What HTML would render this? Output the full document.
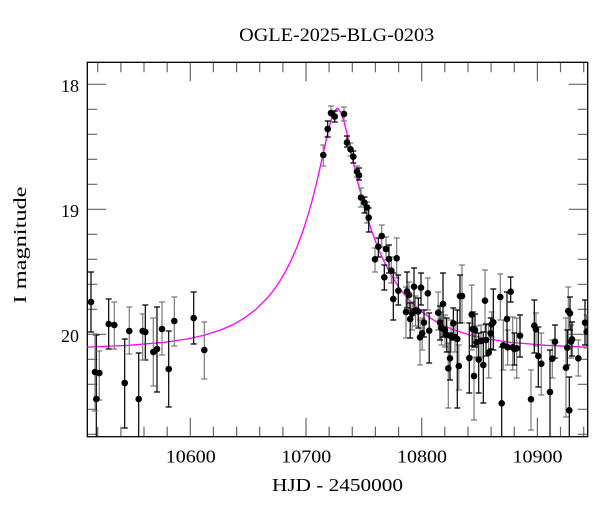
<!DOCTYPE html>
<html><head><meta charset="utf-8"><style>
html,body{margin:0;padding:0;background:#fff;}
svg{display:block;}
text{font-family:"Liberation Serif","DejaVu Serif",serif;fill:#000;}
</style></head><body>
<svg width="600" height="512" viewBox="0 0 600 512" xmlns="http://www.w3.org/2000/svg">
<rect width="600" height="512" fill="#fff"/>
<defs><clipPath id="c"><rect x="87.3" y="62.3" width="500.4" height="374.4"/></clipPath></defs>
<text x="336.7" y="41" font-size="19" text-anchor="middle" textLength="195" lengthAdjust="spacingAndGlyphs">OGLE-2025-BLG-0203</text>
<g stroke="#666" stroke-width="1.2" fill="none">
<path d="M87.3,84.3h19M87.3,209.3h19M87.3,334.3h19M87.3,109.3h10M87.3,134.3h10M87.3,159.3h10M87.3,184.3h10M87.3,234.3h10M87.3,259.3h10M87.3,284.3h10M87.3,309.3h10M87.3,359.3h10M87.3,384.3h10M87.3,409.3h10M87.3,434.3h10"/>
<path d="M587.7,84.3h-19M587.7,209.3h-19M587.7,334.3h-19M587.7,109.3h-10M587.7,134.3h-10M587.7,159.3h-10M587.7,184.3h-10M587.7,234.3h-10M587.7,259.3h-10M587.7,284.3h-10M587.7,309.3h-10M587.7,359.3h-10M587.7,384.3h-10M587.7,409.3h-10M587.7,434.3h-10"/>
<path d="M190.3,436.7v-19M306,436.7v-19M421.7,436.7v-19M537.4,436.7v-19M97.7,436.7v-10M120.9,436.7v-10M144,436.7v-10M167.2,436.7v-10M213.4,436.7v-10M236.6,436.7v-10M259.7,436.7v-10M282.9,436.7v-10M329.1,436.7v-10M352.3,436.7v-10M375.4,436.7v-10M398.6,436.7v-10M444.8,436.7v-10M468,436.7v-10M491.1,436.7v-10M514.3,436.7v-10M560.5,436.7v-10M583.7,436.7v-10"/>
<path d="M190.3,62.3v19M306,62.3v19M421.7,62.3v19M537.4,62.3v19M97.7,62.3v10M120.9,62.3v10M144,62.3v10M167.2,62.3v10M213.4,62.3v10M236.6,62.3v10M259.7,62.3v10M282.9,62.3v10M329.1,62.3v10M352.3,62.3v10M375.4,62.3v10M398.6,62.3v10M444.8,62.3v10M468,62.3v10M491.1,62.3v10M514.3,62.3v10M560.5,62.3v10M583.7,62.3v10"/>
</g>
<rect x="87.3" y="62.3" width="500.4" height="374.4" fill="none" stroke="#000" stroke-width="1.3"/>
<g font-size="18" text-anchor="end">
<text x="79" y="92">18</text>
<text x="79" y="217">19</text>
<text x="79" y="342">20</text>
</g>
<g font-size="18" text-anchor="middle">
<text x="190.8" y="462.7" textLength="50" lengthAdjust="spacingAndGlyphs">10600</text>
<text x="306.3" y="462.7" textLength="50" lengthAdjust="spacingAndGlyphs">10700</text>
<text x="422" y="462.7" textLength="50" lengthAdjust="spacingAndGlyphs">10800</text>
<text x="537.5" y="462.7" textLength="50" lengthAdjust="spacingAndGlyphs">10900</text>
</g>
<text x="337.5" y="491" font-size="18" text-anchor="middle" textLength="131" lengthAdjust="spacingAndGlyphs">HJD - 2450000</text>
<text transform="translate(26,245) rotate(-90)" font-size="18" text-anchor="middle" textLength="117" lengthAdjust="spacingAndGlyphs">I magnitude</text>
<g clip-path="url(#c)">
<polyline fill="none" stroke="#ff00ff" stroke-width="1.3" points="82.8,347.2 87,347.1 129,345.3 163.8,342.4 186.9,339 204.2,335.2 221.6,329.6 233.2,324.5 244.7,317.8 256.3,309 267.9,297.3 273.7,290.1 279.5,281.7 285.2,272 291,260.7 296.8,247.4 302.6,232 307.2,217.7 311.9,201.5 316.5,183.2 319.9,168.3 323.4,152.5 326.9,136.7 330.4,122.4 333.8,112 337.3,108.1 340.8,112 344.2,122.4 347.7,136.7 351.2,152.5 354.7,168.3 358.1,183.2 362.8,201.5 367.4,217.7 372,232 377.8,247.4 383.6,260.7 389.4,272 395.2,281.7 400.9,290.1 406.7,297.3 418.3,309 429.9,317.8 441.4,324.5 453,329.6 470.4,335.2 487.7,339 510.9,342.4 545.6,345.3 587.2,347.2 592,347.3"/>
<g stroke-width="1.2" fill="none">
<path stroke="#000" d="M91,272V332M88,272H94M88,332H94 M96.3,335V437M93.3,335H99.3 M108.7,299V349M105.7,299H111.7M105.7,349H111.7 M124.7,339V428M121.7,339H127.7M121.7,428H127.7 M138.7,353V437M135.7,353H141.7 M145.3,305V360M142.3,305H148.3M142.3,360H148.3 M157,307V392M154,307H160M154,392H160 M168.7,331V407M165.7,331H171.7M165.7,407H171.7 M193.7,292V344M190.7,292H196.7M190.7,344H196.7"/>
<path stroke="#7a7a7a" d="M95,334V411M92,334H98M92,411H98 M99.3,351V400M96.3,351H102.3M96.3,400H102.3 M114.3,302V349M111.3,302H117.3M111.3,349H117.3 M129.3,307V354M126.3,307H132.3M126.3,354H132.3 M142.7,314V360M139.7,314H145.7M139.7,360H145.7 M153.3,318V386M150.3,318H156.3M150.3,386H156.3 M162,302V355M159,302H165M159,355H165 M174.3,297V346M171.3,297H177.3M171.3,346H177.3 M204.3,322V379M201.3,322H207.3M201.3,379H207.3"/>
<path stroke="#7a7a7a" d="M323.3,145V166M320.3,145H326.3M320.3,166H326.3 M331,106V117M328,106H334 M344,107V121M341,107H347M341,121H347 M350.5,143V156M347.5,143H353.5M347.5,156H353.5 M357,166V177M354,166H360M354,177H360 M361,188V207M358,188H364M358,207H364 M367,202V223M364,202H370M364,223H370"/>
<path stroke="#000" d="M327.7,121V137M324.7,121H330.7M324.7,137H330.7 M334.7,111V122M331.7,111H337.7M331.7,122H337.7 M347,136V147M344,136H350M344,147H350 M353.3,151V163M350.3,151H356.3M350.3,163H356.3 M359,168V180M356,168H362M356,180H362 M364.5,197V213M361.5,197H367.5M361.5,213H367.5 M368.7,208V232M365.7,208H371.7M365.7,232H371.7"/>
<path stroke="#7a7a7a" d="M375,248V272M372,248H378M372,272H378 M381.7,225V247M378.7,225H384.7M378.7,247H384.7 M386,237V260M383,237H389M383,260H389 M391.3,257V283M388.3,257H394.3M388.3,283H394.3 M396.7,238V278M393.7,238H399.7M393.7,278H399.7 M406,287V338M403,287H409M403,338H409 M409,282V310M406,282H412M406,310H412 M412.2,302V330M409.2,302H415.2M409.2,330H415.2 M415.5,296V326M412.5,296H418.5M412.5,326H418.5 M420,320V365M417,320H423M417,365H423 M422.2,318V350M419.2,318H425.2M419.2,350H425.2 M427.8,278V310M424.8,278H430.8M424.8,310H430.8 M438.2,292V330M435.2,292H441.2M435.2,330H441.2 M441.5,312V345M438.5,312H444.5M438.5,345H444.5 M445,315V347M442,315H448M442,347H448 M448.3,343V408M445.3,343H451.3M445.3,408H451.3 M451,320V352M448,320H454M448,352H454 M455,322V352M452,322H458M452,352H458 M458.8,345V390M455.8,345H461.8M455.8,390H461.8 M462,265V323M459,265H465M459,323H465"/>
<path stroke="#000" d="M378.3,238V257M375.3,238H381.3M375.3,257H381.3 M384.3,265V290M381.3,265H387.3M381.3,290H387.3 M389,245V273M386,245H392M386,273H392 M393.3,273V320M390.3,273H396.3M390.3,320H396.3 M398.3,275V305M395.3,275H401.3M395.3,305H401.3 M407,272V308M404,272H410M404,308H410 M410.2,303V338M407.2,303H413.2M407.2,338H413.2 M414,268V309M411,268H417M411,309H417 M418.3,298V328M415.3,298H421.3M415.3,328H421.3 M421,273V305M418,273H424M418,305H424 M424,310V337M421,310H427M421,337H427 M429.2,313V363M426.2,313H432.2M426.2,363H432.2 M440,306V340M437,306H443M437,340H443 M443,273V337M440,273H446M440,337H446 M446.7,318V352M443.7,318H449.7M443.7,352H449.7 M450,333V380M447,333H453M447,380H453 M453.3,308V340M450.3,308H456.3M450.3,340H456.3 M457.3,310V408M454.3,310H460.3M454.3,408H460.3 M460,275V323M457,275H463M457,323H463 M469.3,323V393M466.3,323H472.3M466.3,393H472.3"/>
<path stroke="#7a7a7a" d="M471.7,285V350M468.7,285H474.7M468.7,350H474.7 M474,357V420M471,357H477M471,420H477 M476.7,326V358M473.7,326H479.7M473.7,358H479.7 M481,325V357M478,325H484M478,357H484 M485,270V332M482,270H488M482,332H488 M488.7,325V378M485.7,325H491.7M485.7,378H491.7 M491.7,312V337M488.7,312H494.7M488.7,337H494.7 M500.3,274V320M497.3,274H503.3M497.3,320H503.3 M503.3,320V370M500.3,320H506.3M500.3,370H506.3 M507.7,330V365M504.7,330H510.7M504.7,365H510.7 M512.7,317V370M509.7,317H515.7M509.7,370H515.7 M516.7,318V378M513.7,318H519.7M513.7,378H519.7 M531,370V430M528,370H534M528,430H534 M536,313V346M533,313H539M533,346H539 M541.3,333V395M538.3,333H544.3M538.3,395H544.3 M552.3,340V378M549.3,340H555.3M549.3,378H555.3 M566,318V417M563,318H569M563,417H569 M568.3,287V342M565.3,287H571.3M565.3,342H571.3 M571,325V358M568,325H574M568,358H574 M578.3,340V376M575.3,340H581.3M575.3,376H581.3 M586.7,315V348M583.7,315H589.7M583.7,348H589.7"/>
<path stroke="#000" d="M472.8,312V346M469.8,312H475.8M469.8,346H475.8 M475,314V347M472,314H478M472,347H478 M478.7,333V393M475.7,333H481.7M475.7,393H481.7 M483.3,332V403M480.3,332H486.3M480.3,403H486.3 M486,324V356M483,324H489M483,356H489 M490.7,318V349M487.7,318H493.7M487.7,349H493.7 M493.3,289V350M490.3,289H496.3M490.3,350H496.3 M501.7,347V437M498.7,347H504.7 M507,292V348M504,292H510M504,348H510 M510.7,277V302M507.7,277H513.7M507.7,302H513.7 M514.3,333V365M511.3,333H517.3M511.3,365H517.3 M520,315V357M517,315H523M517,357H523 M534.3,300V353M531.3,300H537.3M531.3,353H537.3 M538.3,327V387M535.3,327H541.3M535.3,387H541.3 M550,350V437M547,350H553 M555,325V358M552,325H558M552,358H558 M567.3,330V365M564.3,330H570.3M564.3,365H570.3 M570,297V330M567,297H573M567,330H573 M569.3,377V437M566.3,377H572.3 M572,322V356M569,322H575M569,356H575 M585,300V345M582,300H588M582,345H588"/>
</g>
<g fill="#000">
<circle cx="91" cy="302" r="3.3"/><circle cx="95" cy="372" r="3.3"/><circle cx="96.3" cy="399" r="3.3"/><circle cx="99.3" cy="373" r="3.3"/><circle cx="108.7" cy="324" r="3.3"/><circle cx="114.3" cy="325" r="3.3"/><circle cx="124.7" cy="383" r="3.3"/><circle cx="129.3" cy="331" r="3.3"/><circle cx="138.7" cy="399" r="3.3"/><circle cx="142.7" cy="331" r="3.3"/><circle cx="145.3" cy="332" r="3.3"/><circle cx="153.3" cy="352" r="3.3"/><circle cx="157" cy="349" r="3.3"/><circle cx="162" cy="329" r="3.3"/><circle cx="168.7" cy="369" r="3.3"/><circle cx="174.3" cy="321" r="3.3"/><circle cx="193.7" cy="318" r="3.3"/><circle cx="204.3" cy="350" r="3.3"/>
<circle cx="323.3" cy="155" r="3.3"/><circle cx="327.7" cy="129" r="3.3"/><circle cx="331" cy="113" r="3.3"/><circle cx="334.7" cy="116.5" r="3.3"/><circle cx="344" cy="114" r="3.3"/><circle cx="347" cy="142.5" r="3.3"/><circle cx="350.5" cy="149.3" r="3.3"/><circle cx="353.3" cy="156.7" r="3.3"/><circle cx="357" cy="171.7" r="3.3"/><circle cx="359" cy="175.3" r="3.3"/><circle cx="361" cy="197.5" r="3.3"/><circle cx="364.5" cy="202.7" r="3.3"/><circle cx="367" cy="207.5" r="3.3"/><circle cx="368.7" cy="217.7" r="3.3"/>
<circle cx="375" cy="259.3" r="3.3"/><circle cx="378.3" cy="246.7" r="3.3"/><circle cx="381.7" cy="236" r="3.3"/><circle cx="384.3" cy="277.3" r="3.3"/><circle cx="386" cy="249" r="3.3"/><circle cx="389" cy="259" r="3.3"/><circle cx="391.3" cy="270.7" r="3.3"/><circle cx="393.3" cy="299" r="3.3"/><circle cx="396.7" cy="258.3" r="3.3"/><circle cx="398.3" cy="290.7" r="3.3"/>
<circle cx="406" cy="312" r="3.3"/><circle cx="407" cy="291.5" r="3.3"/><circle cx="409" cy="295" r="3.3"/><circle cx="410.2" cy="319" r="3.3"/><circle cx="412.2" cy="313.5" r="3.3"/><circle cx="414" cy="286.7" r="3.3"/><circle cx="415.5" cy="310.5" r="3.3"/><circle cx="418.3" cy="311.5" r="3.3"/><circle cx="420" cy="337.3" r="3.3"/><circle cx="421" cy="287.7" r="3.3"/><circle cx="422.2" cy="333.3" r="3.3"/><circle cx="424" cy="322.5" r="3.3"/><circle cx="427.8" cy="293.3" r="3.3"/><circle cx="429.2" cy="330.7" r="3.3"/><circle cx="438.2" cy="312.7" r="3.3"/><circle cx="440" cy="322.5" r="3.3"/><circle cx="441.5" cy="328" r="3.3"/><circle cx="443" cy="304" r="3.3"/><circle cx="445" cy="330" r="3.3"/><circle cx="446.7" cy="335" r="3.3"/><circle cx="448.3" cy="368.3" r="3.3"/><circle cx="450" cy="358.3" r="3.3"/><circle cx="451" cy="336.3" r="3.3"/><circle cx="453.3" cy="323.3" r="3.3"/><circle cx="455" cy="337" r="3.3"/><circle cx="457.3" cy="339" r="3.3"/><circle cx="458.8" cy="366" r="3.3"/><circle cx="460" cy="296" r="3.3"/><circle cx="462" cy="296" r="3.3"/><circle cx="469.3" cy="358" r="3.3"/>
<circle cx="471.7" cy="314.5" r="3.3"/><circle cx="472.8" cy="329" r="3.3"/><circle cx="474" cy="376" r="3.3"/><circle cx="475" cy="330" r="3.3"/><circle cx="476.7" cy="342.3" r="3.3"/><circle cx="478.7" cy="359.5" r="3.3"/><circle cx="481" cy="341" r="3.3"/><circle cx="483.3" cy="365" r="3.3"/><circle cx="485" cy="300.7" r="3.3"/><circle cx="486" cy="340" r="3.3"/><circle cx="488.7" cy="352.7" r="3.3"/><circle cx="490.7" cy="333.3" r="3.3"/><circle cx="491.7" cy="324.3" r="3.3"/><circle cx="493.3" cy="322.3" r="3.3"/><circle cx="500.3" cy="297" r="3.3"/><circle cx="501.7" cy="403.3" r="3.3"/><circle cx="503.3" cy="345.3" r="3.3"/><circle cx="507" cy="319" r="3.3"/><circle cx="507.7" cy="347.3" r="3.3"/><circle cx="510.7" cy="291.7" r="3.3"/><circle cx="512.7" cy="347.3" r="3.3"/><circle cx="514.3" cy="349" r="3.3"/><circle cx="516.7" cy="348.3" r="3.3"/><circle cx="520" cy="335.7" r="3.3"/><circle cx="531" cy="399.3" r="3.3"/><circle cx="534.3" cy="325.7" r="3.3"/><circle cx="536" cy="329.3" r="3.3"/><circle cx="538.3" cy="356" r="3.3"/><circle cx="541.3" cy="363.7" r="3.3"/><circle cx="550" cy="392" r="3.3"/><circle cx="552.3" cy="358.7" r="3.3"/><circle cx="555" cy="341.7" r="3.3"/><circle cx="566" cy="367.7" r="3.3"/><circle cx="567.3" cy="347.7" r="3.3"/><circle cx="568.3" cy="311" r="3.3"/><circle cx="570" cy="313.3" r="3.3"/><circle cx="571" cy="341.7" r="3.3"/><circle cx="569.3" cy="410.3" r="3.3"/><circle cx="572" cy="339.3" r="3.3"/><circle cx="578.3" cy="358.3" r="3.3"/><circle cx="585" cy="322.7" r="3.3"/><circle cx="586.7" cy="331.7" r="3.3"/>
</g>
</g>
</svg>
</body></html>
